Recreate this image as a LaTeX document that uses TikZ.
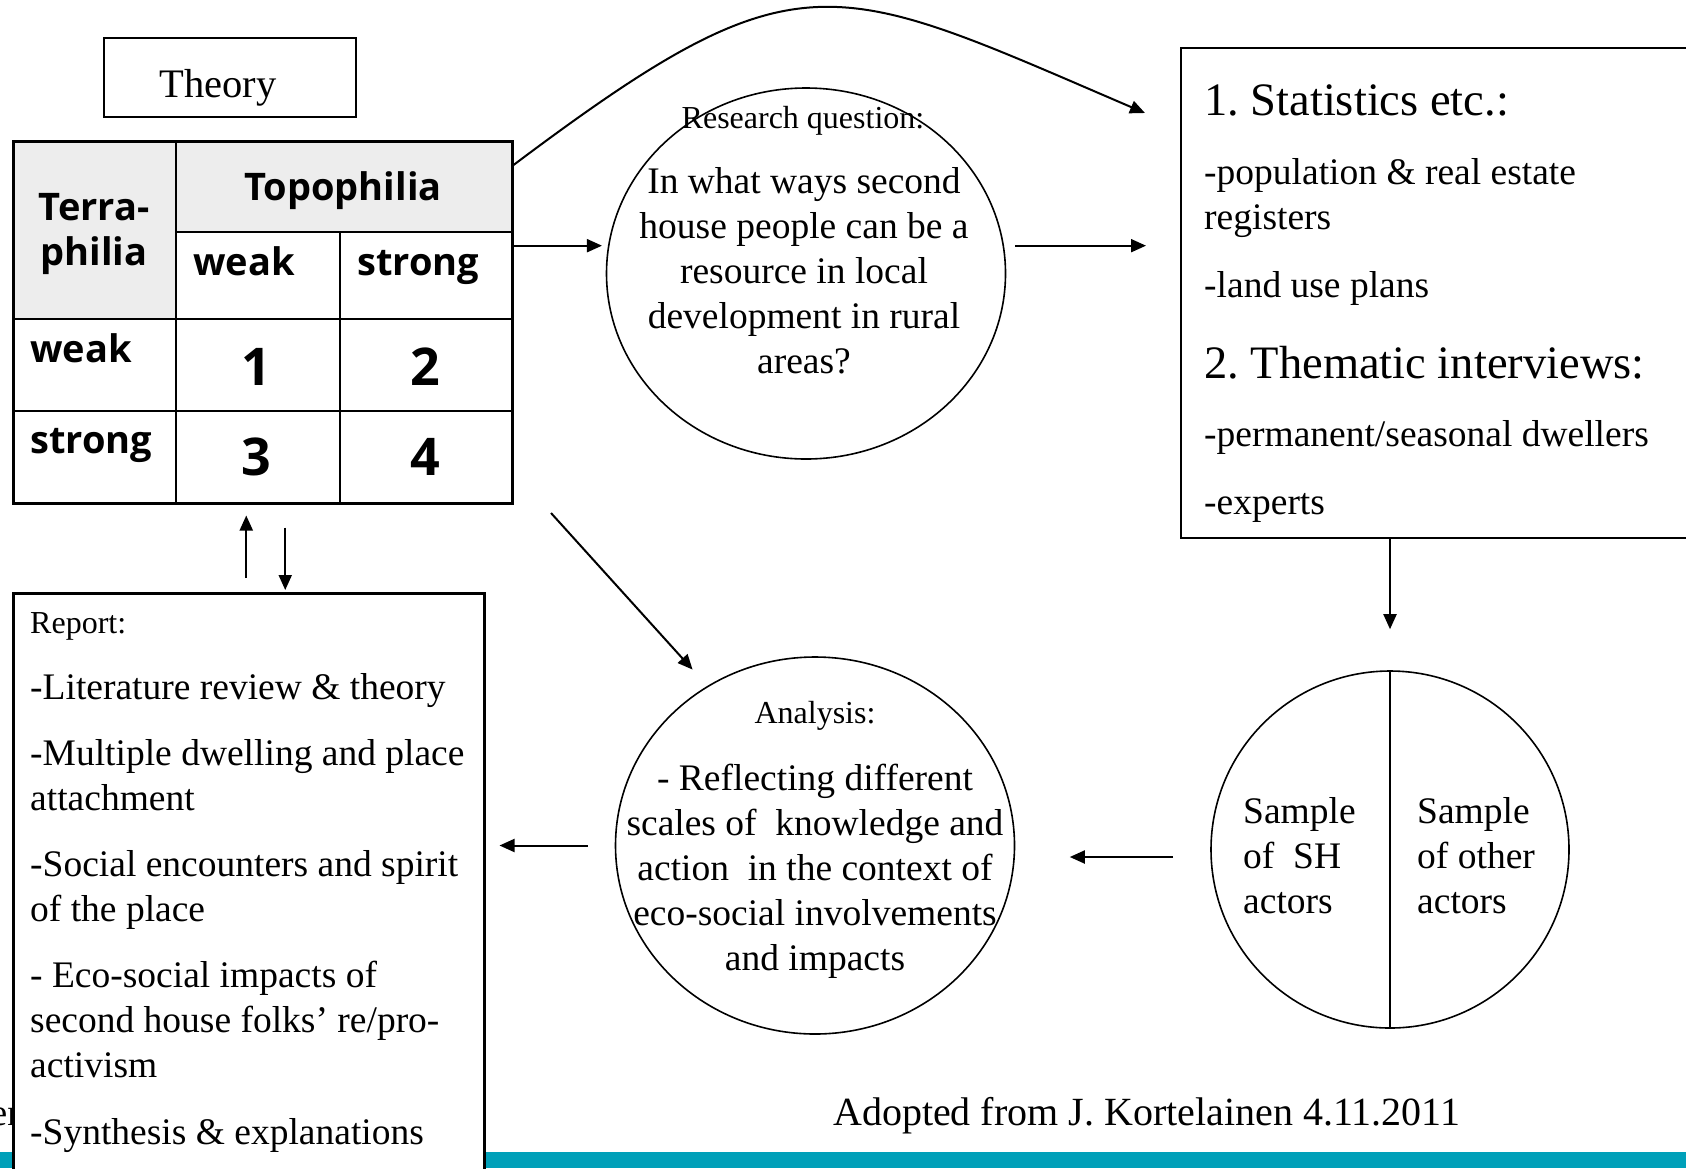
\documentclass[tikz,border=0pt]{standalone}
\usepackage{fontspec}
\setmainfont{Liberation Serif}
\newfontfamily\tabfont{Open Sans}
\usepackage{tikz}
\usetikzlibrary{positioning, shapes.geometric, calc, arrows.meta}
\definecolor{tabGray}{RGB}{237, 237, 237}
\definecolor{barTeal}{RGB}{0, 160, 185}
\newcommand{\bodysize}{\fontsize{37.5}{45}\selectfont}
\newcommand{\smallsize}{\fontsize{32}{45}\selectfont}
\newcommand{\headsize}{\fontsize{46.5}{45}\selectfont}
\frenchspacing
\tikzset{
    base/.style={
        inner sep=0pt,
        font=\bodysize
    },
    frame/.style={
        rectangle,
        draw,
        line width=2pt,
        inner sep=0pt
    },
    bubble/.style={
        ellipse,
        draw,
        line width=1.6pt,
        inner sep=0pt
    },
    tabtext/.style={
        inner sep=0pt,
        font=\tabfont\bfseries\fontsize{38}{45}\selectfont
    },
    tabnum/.style={
        inner sep=0pt,
        font=\tabfont\bfseries\fontsize{52}{60}\selectfont
    },
    grid/.style={
        line width=2.5pt
    },
    flow/.style={
        -{Triangle[length=15pt, width=13pt]},
        line width=2pt
    }
}

\begin{document}
\begin{tikzpicture}[x=1pt, y=-1pt]
  \useasboundingbox (0,0) rectangle (1686,1168);
  \clip (0,0) rectangle (1686,1168);

  \fill[barTeal] (0,1152) rectangle (1686,1168);
  \node[base, anchor=base east] (cut) at (20,1125) {er};

  \node[frame, minimum width=252pt, minimum height=79pt, anchor=north west] (thy) at (103,37) {};
  \node[base, font=\fontsize{40.5}{45}\selectfont, anchor=base] (thylbl) at (218,97) {Theory};

  \fill[tabGray] (12,140) rectangle (176,319);
  \fill[tabGray] (176,140) rectangle (511,232);
  \node[rectangle, draw, line width=2.5pt, inner sep=0pt, minimum width=499pt, minimum height=362pt, anchor=north west] (tbl) at (12,140) {};
  \draw[grid] (176,140) -- (176,502);
  \draw[grid] (340,232) -- (340,502);
  \draw[grid] (176,232) -- (511,232);
  \draw[grid] (12,319) -- (511,319);
  \draw[grid] (12,411) -- (511,411);
  \node[tabtext, align=center, anchor=north] (terra) at (94,193) {Terra-\\philia};
  \node[tabtext, anchor=base] (topo) at (343,200) {Topophilia};
  \node[tabtext, anchor=base west] (cweak) at (193,275) {weak};
  \node[tabtext, anchor=base west] (cstrong) at (357,275) {strong};
  \node[tabtext, anchor=base west] (rweak) at (30,362) {weak};
  \node[tabtext, anchor=base west] (rstrong) at (30,453) {strong};
  \node[tabnum, anchor=base] (n1) at (256,385) {1};
  \node[tabnum, anchor=base] (n2) at (425,385) {2};
  \node[tabnum, anchor=base] (n3) at (256,475) {3};
  \node[tabnum, anchor=base] (n4) at (425,475) {4};

  \node[bubble, minimum width=399pt, minimum height=371pt] (rq) at (806,273.5) {};
  \node[base, font=\smallsize, anchor=base] (rqhead) at (803,128) {Research question:};
  \node[base, align=center, anchor=north] (rqtext) at (804,167.5) {In what ways second\\house people can be a\\resource in local\\development in rural\\areas?};

  \node[frame, minimum width=520pt, minimum height=490pt, anchor=north west] (st) at (1180,47) {};
  \node[base, align=left, anchor=north west] (sttext) at (1204,85) {{\headsize 1. Statistics etc.:}\\[24pt]
    -population \& real estate\\
    registers\\[23pt]
    -land use plans\\[36pt]
    {\headsize 2. Thematic interviews:}\\[23pt]
    -permanent/seasonal dwellers\\[23pt]
    -experts};

  \node[bubble, minimum width=358pt, minimum height=357pt] (smp) at (1390,849.5) {};
  \draw[line width=1.6pt] (smp.north) -- (smp.south);
  \node[base, align=left, anchor=north west] (smpl) at (1243,797) {Sample\\of\ \ SH\\actors};
  \node[base, align=left, anchor=north west] (smpr) at (1417,797) {Sample\\of other\\actors};

  \node[bubble, minimum width=399pt, minimum height=377pt] (an) at (815,845.5) {};
  \node[base, font=\smallsize, anchor=base] (anhead) at (815,723) {Analysis:};
  \node[base, align=center, anchor=north] (antext) at (815,763.5) {- Reflecting different\\scales of\ \ knowledge and\\action\ \ in the context of\\eco-social involvements\\and impacts};

  \node[frame, fill=white, line width=2.5pt, minimum width=471pt, minimum height=620pt, anchor=north west] (rep) at (12,592) {};
  \node[base, align=left, anchor=north west] (reptext) at (30,612) {{\smallsize Report:}\\[21pt]
    -Literature review \& theory\\[21pt]
    -Multiple dwelling and place\\
    attachment\\[21pt]
    -Social encounters and spirit\\
    of the place\\[21pt]
    - Eco-social impacts of\\
    second house folks’ re/pro-\\
    activism\\[22pt]
    -Synthesis \& explanations};

  \node[base, font=\fontsize{40}{45}\selectfont, anchor=base west] (credit) at (833,1125) {Adopted from J. Kortelainen 4.11.2011};

  \coordinate (cvend) at (1145,113);
  \coordinate (dgs) at (551,513);
  \draw[flow] ($(tbl.north east)+(0,25)$) .. controls (800,-50) and (830,-22) .. (cvend);
  \draw[flow, shorten >=6pt] (tbl.east |- rq.172) -- (rq.172);
  \draw[flow, shorten <=11pt, shorten >=34pt] (rq.8) -- (rq.8 -| st.west);
  \draw[flow, shorten >=22pt] (dgs) -- (an.124);
  \draw[flow, shorten >=41pt] (smp.north |- st.south) -- (smp.north);
  \draw[flow, shorten <=37pt, shorten >=54.5pt] ([yshift=-7.5pt]smp.west) -- ([yshift=-7.5pt]smp.west -| an.east);
  \draw[flow, shorten <=27pt, shorten >=14pt] (an.west) -- (an.west -| rep.east);
  \draw[flow, shorten <=14pt, shorten >=11pt] ([xshift=-2.5pt]rep.north) -- ([xshift=-2.5pt]rep.north |- tbl.south);
  \draw[flow, shorten <=23pt, shorten >=2pt] ([xshift=36.5pt]rep.north |- tbl.south) -- ([xshift=36.5pt]rep.north);
\end{tikzpicture}
\end{document}
